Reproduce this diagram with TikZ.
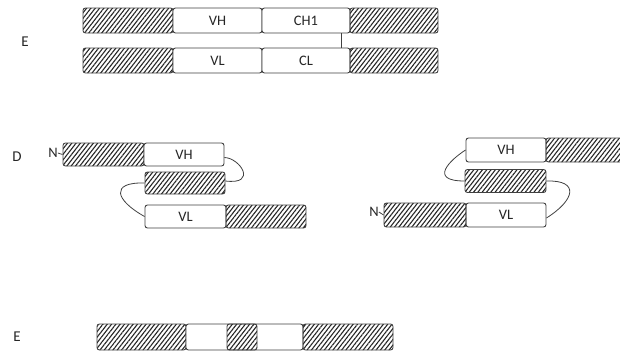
\documentclass[tikz,border=0pt]{standalone}
\usepackage{fontspec}
\setmainfont{Carlito}
\usetikzlibrary{patterns.meta}
\begin{document}
\begin{tikzpicture}[x=1pt,y=-1pt,
  seg/.style={draw=black!75,line width=0.9pt,rounded corners=2.5pt,fill=white},
  hatch/.style={seg,pattern={Lines[angle=52,distance=3.4pt,line width=1.1pt]},pattern color=black!85},
  lbl/.style={font=\fontsize{14.5}{16}\selectfont,text=black!85},
  big/.style={font=\fontsize{15}{17}\selectfont,text=black!85},
  link/.style={draw=black!75,line width=0.8pt}]
\useasboundingbox (0,0) rectangle (620,351);
% ---- top E
\node[big] (E1) at (25,42) {E};
\draw[hatch] (83,8) rectangle (173,33);
\node[seg,minimum width=89pt,minimum height=25pt,inner sep=0pt,lbl] (VH1) at (217.5,20.5) {VH};
\node[seg,minimum width=88pt,minimum height=25pt,inner sep=0pt,lbl] (CH1) at (306,20.5) {CH1};
\draw[hatch] (350,8) rectangle (438,33);
\draw[hatch] (83,48) rectangle (173,73);
\node[seg,minimum width=89pt,minimum height=25pt,inner sep=0pt,lbl] (VL1) at (217.5,60.5) {VL};
\node[seg,minimum width=88pt,minimum height=25pt,inner sep=0pt,lbl] (CL1) at (306,60.5) {CL};
\draw[hatch] (350,48) rectangle (438,73);
\draw[link] ([xshift=-9pt]CH1.south east) -- ([xshift=-9pt]CL1.north east);
% ---- D left
\node[big] (D) at (17,157) {D};
\node[lbl,inner sep=0pt] (N1) at (53,153) {N};
\node[hatch,minimum width=81pt,minimum height=23pt,inner sep=0pt] (A1) at (103.5,154.5) {};
\draw[link] (N1.east) -- (A1.west);
\node[seg,minimum width=80pt,minimum height=23pt,inner sep=0pt,lbl] (VH2) at (184,154.5) {VH};
\node[hatch,minimum width=80pt,minimum height=22pt,inner sep=0pt] (M2) at (185,183) {};
\node[seg,minimum width=81pt,minimum height=23pt,inner sep=0pt,lbl] (VL2) at (185.5,216.5) {VL};
\node[hatch,minimum width=80pt,minimum height=23pt,inner sep=0pt] (B2) at (266,216.5) {};
\draw[link] ([yshift=-3pt]VH2.east) .. controls (240,158) and (258,185) .. ([yshift=2pt]M2.east);
\draw[link] (M2.west) .. controls (110,182) and (115,200) .. (VL2.west);
% ---- D right
\node[seg,minimum width=80pt,minimum height=24pt,inner sep=0pt,lbl] (VH3) at (506,150) {VH};
\node[hatch,minimum width=82pt,minimum height=24pt,inner sep=0pt] (A3) at (587,150) {};
\node[hatch,minimum width=81pt,minimum height=23pt,inner sep=0pt] (M3) at (505.5,181) {};
\node[seg,minimum width=80pt,minimum height=24pt,inner sep=0pt,lbl] (VL3) at (506,215) {VL};
\node[hatch,minimum width=82pt,minimum height=24pt,inner sep=0pt] (B3) at (425,215) {};
\node[lbl,inner sep=0pt] (N3) at (374,212) {N};
\draw[link] (N3.east) -- (B3.west);
\draw[link] (VH3.west) .. controls (450,160) and (428,181) .. (M3.west);
\draw[link] (M3.east) .. controls (580,180) and (575,200) .. ([yshift=-3pt]VL3.east);
% ---- bottom E
\node[big] (E2) at (17,337) {E};
\draw[hatch] (97,324) rectangle (186,350);
\node[seg,minimum width=117pt,minimum height=26pt,inner sep=0pt] (W4) at (244.5,337) {};
\node[hatch,minimum width=30pt,minimum height=26pt,inner sep=0pt] (K4) at (242,337) {};
\draw[hatch] (303,324) rectangle (393,350);
\end{tikzpicture}
\end{document}
